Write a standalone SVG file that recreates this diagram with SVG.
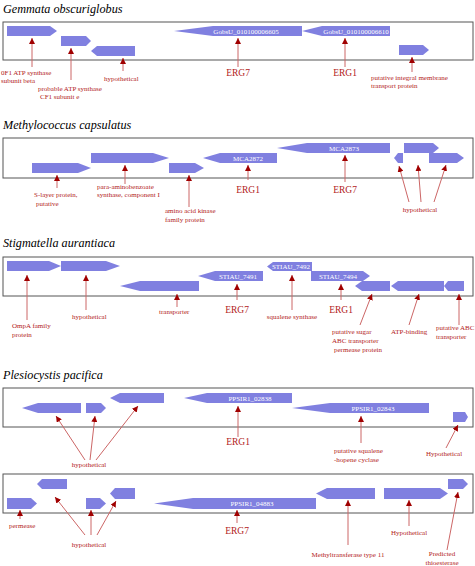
<svg xmlns="http://www.w3.org/2000/svg" width="475" height="566" viewBox="0 0 475 566">
<style>
.title{font-family:"Liberation Serif",serif;font-style:italic;font-size:12.2px;fill:#000}
.box{fill:none;stroke:#555;stroke-width:1}
.gene{fill:#8080e0}
.gl{font-family:"Liberation Serif",serif;font-size:7px;fill:#fff;text-anchor:middle}
.lab{font-family:"Liberation Serif",serif;font-size:7px;fill:#b22222}
.erg{font-family:"Liberation Serif",serif;font-size:9.5px;fill:#b22222;text-anchor:middle}
.mid{text-anchor:middle}
.con line{stroke:#cc6666;stroke-width:1;marker-end:url(#ah)}
</style>
<defs>
<marker id="ah" markerUnits="userSpaceOnUse" markerWidth="6" markerHeight="6" refX="6" refY="3" orient="auto">
<path d="M0,0 L6,3 L0,6 z" fill="#a00000"/>
</marker>
</defs>
<rect width="475" height="566" fill="#fff"/>

<!-- Gemmata -->
<g id="gemmata">
<text class="title" x="3" y="13">Gemmata obscuriglobus</text>
<rect class="box" x="3" y="22" width="470" height="38"/>
</g>
<g id="g_atp_beta"><polygon class="gene" points="7,26 50,26 57,31 50,36 7,36"/>
<text class="lab" x="1" y="75">0F1 ATP synthase</text><text class="lab" x="1" y="83">subunit beta</text></g>
<g id="g_atp_e"><polygon class="gene" points="61,36 86,36 91,41 86,46 61,46"/>
<text class="lab" x="38" y="91">probable ATP synthase</text><text class="lab" x="40" y="99">CF1 subunit e</text></g>
<g id="g_hyp1"><polygon class="gene" points="91,51 97,46 135,46 135,56 97,56"/>
<text class="lab" x="104" y="81">hypothetical</text></g>
<g id="g_6605"><polygon class="gene" points="174,31 213,26 302,26 302,36 213,36"/>
<text class="gl" x="246" y="33.5">GobsU_010100006605</text>
<text class="erg" x="238" y="76">ERG7</text></g>
<g id="g_6610"><polygon class="gene" points="302,31 322,26 390,26 390,36 322,36"/>
<text class="gl" x="356" y="33.5">GobsU_010100006610</text>
<text class="erg" x="345" y="76">ERG1</text></g>
<g id="g_integral"><polygon class="gene" points="399,45 423,45 429,50 423,55 399,55"/>
<text class="lab" x="371" y="80">putative integral membrane</text><text class="lab" x="371" y="88">transport protein</text></g>

<!-- Methylococcus -->
<g id="methylococcus">
<text class="title" x="3" y="129">Methylococcus capsulatus</text>
<rect class="box" x="3" y="138" width="470" height="40"/>
</g>
<g id="m_slayer"><polygon class="gene" points="32,163 78,163 91,168 78,173 32,173"/>
<text class="lab" x="34" y="197">S-layer protein,</text><text class="lab" x="36" y="206">putative</text></g>
<g id="m_para"><polygon class="gene" points="91,153 153,153 169,158 153,163 91,163"/>
<text class="lab" x="97" y="189">para-aminobenzoate</text><text class="lab" x="97" y="197">synthase, component I</text></g>
<g id="m_amino"><polygon class="gene" points="169,163 195,163 204,168 195,173 169,173"/>
<text class="lab" x="165" y="213">amino acid kinase</text><text class="lab" x="165" y="222">family protein</text></g>
<g id="m_2872"><polygon class="gene" points="203,158 220,153 277,153 277,163 220,163"/>
<text class="gl" x="248" y="160.5">MCA2872</text>
<text class="erg" x="248" y="193">ERG1</text></g>
<g id="m_2873"><polygon class="gene" points="277,148 307,143 390,143 390,153 307,153"/>
<text class="gl" x="344" y="150.5">MCA2873</text>
<text class="erg" x="345" y="193">ERG7</text></g>
<g id="m_hyp_a"><polygon class="gene" points="394,158 398,153 403,153 403,163 398,163"/></g>
<g id="m_hyp_b"><polygon class="gene" points="404,143 433,143 439,148 433,153 404,153"/></g>
<g id="m_hyp_c"><polygon class="gene" points="429,153 457,153 464,158 457,163 429,163"/>
<text class="lab mid" x="420" y="212">hypothetical</text></g>

<!-- Stigmatella -->
<g id="stigmatella">
<text class="title" x="3" y="247">Stigmatella aurantiaca</text>
<rect class="box" x="3" y="257" width="470" height="39"/>
</g>
<g id="s_ompa"><polygon class="gene" points="7,261 49,261 61,266 49,271 7,271"/>
<text class="lab" x="12" y="328">OmpA family</text><text class="lab" x="12" y="337">protein</text></g>
<g id="s_hyp"><polygon class="gene" points="61,261 106,261 120,266 106,271 61,271"/>
<text class="lab" x="72" y="319">hypothetical</text></g>
<g id="s_transporter"><polygon class="gene" points="120,286 140,281 199,281 199,291 140,291"/>
<text class="lab" x="159" y="314">transporter</text></g>
<g id="s_7491"><polygon class="gene" points="198,276 215,271 263,271 263,281 215,281"/>
<text class="gl" x="238" y="278.5">STIAU_7491</text>
<text class="erg" x="237" y="313">ERG7</text></g>
<g id="s_7492"><polygon class="gene" points="267,266.5 273,262 312,262 312,271 273,271"/>
<text class="gl" x="291" y="269">STIAU_7492</text>
<text class="lab mid" x="292" y="319">squalene synthase</text></g>
<g id="s_7494"><polygon class="gene" points="311,271 363,271 370,276 363,281 311,281"/>
<text class="gl" x="338" y="278.5">STIAU_7494</text>
<text class="erg" x="341" y="313">ERG1</text></g>
<g id="s_sugar"><polygon class="gene" points="355,286 362,281 390,281 390,291 362,291"/>
<text class="lab" x="332" y="334">putative sugar</text><text class="lab" x="332" y="343">ABC transporter</text><text class="lab" x="334" y="352">permease protein</text></g>
<g id="s_atp"><polygon class="gene" points="391,286 398,281 444,281 444,291 398,291"/>
<text class="lab" x="391" y="334">ATP-binding</text></g>
<g id="s_abc"><polygon class="gene" points="444,286 448,281 464,281 464,291 448,291"/>
<text class="lab" x="436" y="330">putative ABC</text><text class="lab" x="436" y="339">transporter</text></g>

<!-- Plesiocystis -->
<g id="plesiocystis">
<text class="title" x="3" y="379">Plesiocystis pacifica</text>
<rect class="box" x="3" y="388" width="470" height="39"/>
<rect class="box" x="3" y="474" width="470" height="39"/>
</g>
<g id="p1_hyp_a"><polygon class="gene" points="22,408 38,403 81,403 81,413 38,413"/></g>
<g id="p1_hyp_b"><polygon class="gene" points="86,403 101,403 106,408 101,413 86,413"/></g>
<g id="p1_hyp_c"><polygon class="gene" points="110,398 120,393 164,393 164,403 120,403"/>
<text class="lab mid" x="89" y="467">hypothetical</text></g>
<g id="p1_02838"><polygon class="gene" points="184,398 207,393 292,393 292,403 207,403"/>
<text class="gl" x="250" y="400.5">PPSIR1_02838</text>
<text class="erg" x="238" y="445">ERG1</text></g>
<g id="p1_02843"><polygon class="gene" points="292,408 330,403 429,403 429,413 330,413"/>
<text class="gl" x="373" y="410.5">PPSIR1_02843</text>
<text class="lab" x="334" y="453">putative squalene</text><text class="lab" x="334" y="462">-hopene cyclase</text></g>
<g id="p1_hyp_d"><polygon class="gene" points="453,412 465,412 468,417 465,422 453,422"/>
<text class="lab" x="426" y="456">Hypothetical</text></g>

<g id="p2_permease"><polygon class="gene" points="7,498 31,498 37,503.5 31,509 7,509"/>
<text class="lab" x="9" y="528">permease</text></g>
<g id="p2_hyp_a"><polygon class="gene" points="37,484 42,479 67,479 67,489 42,489"/></g>
<g id="p2_hyp_b"><polygon class="gene" points="86,498 100,498 106,503.5 100,509 86,509"/></g>
<g id="p2_hyp_c"><polygon class="gene" points="110,493.5 115,488 135,488 135,499 115,499"/>
<text class="lab mid" x="89" y="547">hypothetical</text></g>
<g id="p2_04883"><polygon class="gene" points="154,503.5 193,498 316,498 316,509 193,509"/>
<text class="gl" x="252" y="506">PPSIR1_04883</text>
<text class="erg" x="237" y="534">ERG7</text></g>
<g id="p2_methyl"><polygon class="gene" points="316,493.5 327,488 375,488 375,499 327,499"/>
<text class="lab mid" x="348" y="557">Methyltransferase type 11</text></g>
<g id="p2_hyp_d"><polygon class="gene" points="384,488 440,488 448,493.5 440,499 384,499"/>
<text class="lab mid" x="409" y="535">Hypothetical</text></g>
<g id="p2_thio"><polygon class="gene" points="448,479 463,479 468,484 463,489 448,489"/>
<text class="lab mid" x="442" y="556">Predicted</text><text class="lab mid" x="442" y="565">thioesterase</text></g>

<g id="connectors" class="con">
<line x1="32" y1="67" x2="32" y2="38"/>
<line x1="71" y1="80" x2="71" y2="48"/>
<line x1="123" y1="71" x2="123" y2="58"/>
<line x1="238" y1="67" x2="238" y2="38"/>
<line x1="345" y1="67" x2="345" y2="38"/>
<line x1="412" y1="72" x2="412" y2="57"/>

<line x1="57" y1="188" x2="57" y2="175"/>
<line x1="125" y1="184" x2="125" y2="165"/>
<line x1="189" y1="207" x2="189" y2="175"/>
<line x1="248" y1="180" x2="248" y2="165"/>
<line x1="345" y1="182" x2="345" y2="155"/>
<line x1="409" y1="202" x2="399" y2="166"/>
<line x1="421" y1="202" x2="418" y2="165"/>
<line x1="434" y1="202" x2="446" y2="165"/>

<line x1="27" y1="320" x2="27" y2="275"/>
<line x1="86" y1="310" x2="86" y2="275"/>
<line x1="177" y1="307" x2="177" y2="294"/>
<line x1="237" y1="300" x2="237" y2="284"/>
<line x1="292" y1="310" x2="292" y2="275"/>
<line x1="341" y1="300" x2="341" y2="284"/>
<line x1="360" y1="325" x2="372" y2="294"/>
<line x1="409" y1="325" x2="419" y2="294"/>
<line x1="459" y1="325" x2="459" y2="294"/>

<line x1="85" y1="460" x2="56" y2="416"/>
<line x1="90" y1="460" x2="95" y2="416"/>
<line x1="96" y1="460" x2="138" y2="406"/>
<line x1="238" y1="437" x2="238" y2="406"/>
<line x1="361" y1="443" x2="361" y2="416"/>
<line x1="446" y1="448" x2="458" y2="425"/>

<line x1="20" y1="519" x2="20" y2="510"/>
<line x1="85" y1="535" x2="55" y2="497"/>
<line x1="91" y1="535" x2="91" y2="510"/>
<line x1="97" y1="535" x2="116" y2="501"/>
<line x1="237" y1="523" x2="237" y2="510"/>
<line x1="348" y1="545" x2="348" y2="500"/>
<line x1="409" y1="526" x2="409" y2="500"/>
<line x1="447" y1="550" x2="458" y2="492"/>
</g>
</svg>
